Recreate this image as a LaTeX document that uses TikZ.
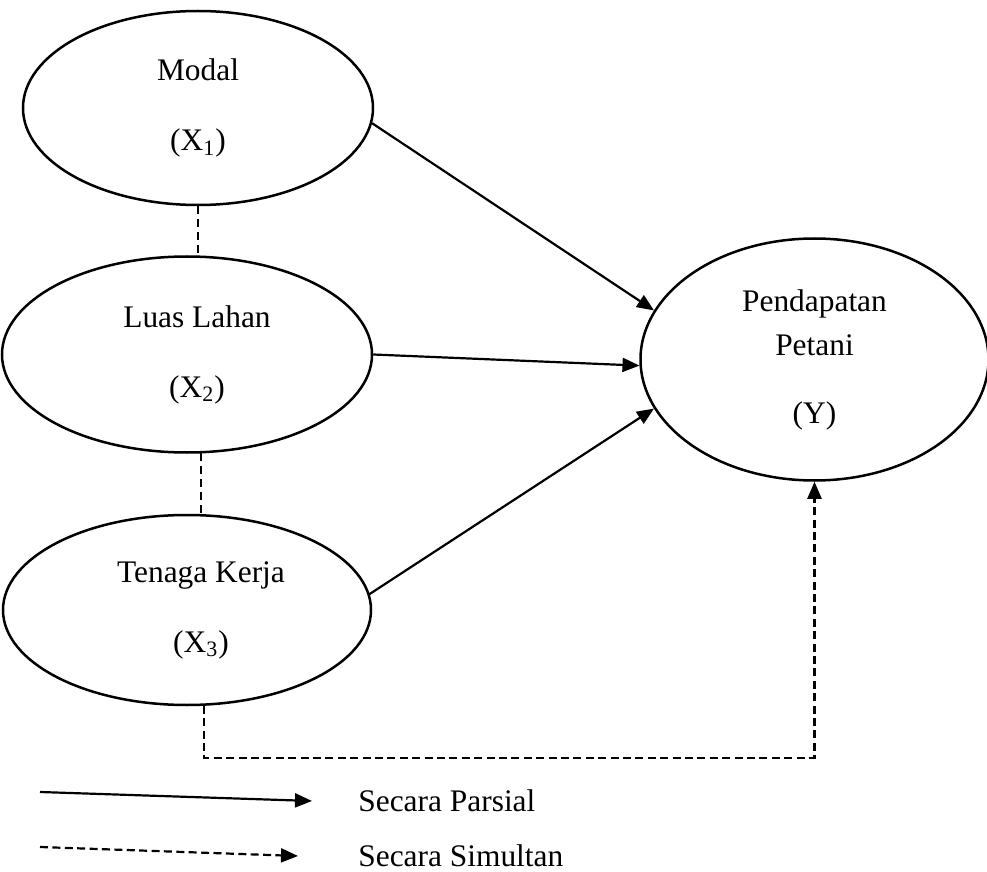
\documentclass[tikz,border=0pt]{standalone}
\usepackage{fontspec}
\setmainfont{Liberation Serif}
\usetikzlibrary{arrows.meta}
\usetikzlibrary{shapes.geometric,positioning}

\begin{document}
\begin{tikzpicture}[
  x=0.5pt, y=-0.5pt,
  var/.style={
    ellipse, draw, line width=1.25pt, inner sep=0pt,
    minimum width=175pt, minimum height=97pt,
    align=center, font=\fontsize{15.7}{19}\selectfont},
  arr/.style={-{Triangle[length=8.5pt,width=7pt]}, line width=1.1pt},
  sim/.style={arr, dash pattern=on 4pt off 2.2pt},
  corr/.style={line width=0.9pt, dash pattern=on 4pt off 2.5pt},
  lbl/.style={anchor=west, inner sep=0pt, font=\fontsize{15.7}{19}\selectfont},
]
  \useasboundingbox (0,0) rectangle (987,872);

  % ── Independent variables ───────────────────────────────────────────────
  \node[var] (x1) at (198,108)
      {Modal\\[16pt](X\textsubscript{1})};
  \node[var, below=24.5pt of x1, xshift=-5.5pt, minimum width=185pt,
        minimum height=98pt] (x2)
      {\hspace*{10pt}Luas Lahan\\[16pt]\hspace*{10pt}(X\textsubscript{2})};
  \node[var, below=30pt of x2, minimum width=184pt,
        minimum height=95pt] (x3)
      {\hspace*{14pt}Tenaga Kerja\\[16pt]\hspace*{14pt}(X\textsubscript{3})};

  % ── Dependent variable ──────────────────────────────────────────────────
  \node[var, right=133pt of x2, yshift=-2.5pt, minimum width=174pt,
        minimum height=121pt] (y)
      {Pendapatan\\[3pt]Petani\\[15pt](Y)};

  % ── Partial effects ─────────────────────────────────────────────────────
  \draw[arr] (x1.-5) -- (y.163);
  \draw[arr] (x2.east) -- (y.182);
  \draw[arr] (x3.5) -- (y.197);

  % ── Links between the X's ───────────────────────────────────────────────
  \draw[corr] (x1.south) -- (x1.south |- x2.north);
  \draw[corr] (x2.-82) -- (x2.-82 |- x3.north);

  % ── Simultaneous effect ─────────────────────────────────────────────────
  \draw[sim] (x3.-80) -- ++(0,52) -| (y.south);

  % ── Legend ──────────────────────────────────────────────────────────────
  \coordinate (parA) at (40,792);
  \coordinate (parB) at (312,801);
  \coordinate (simA) at (40,847);
  \coordinate (simB) at (298,856);
  \node[lbl] (parsial)  at (358,801) {Secara Parsial};
  \node[lbl] (simultan) at (358,856) {Secara Simultan};
  \draw[arr] (parA) -- (parB);
  \draw[sim] (simA) -- (simB);

\end{tikzpicture}
\end{document}
